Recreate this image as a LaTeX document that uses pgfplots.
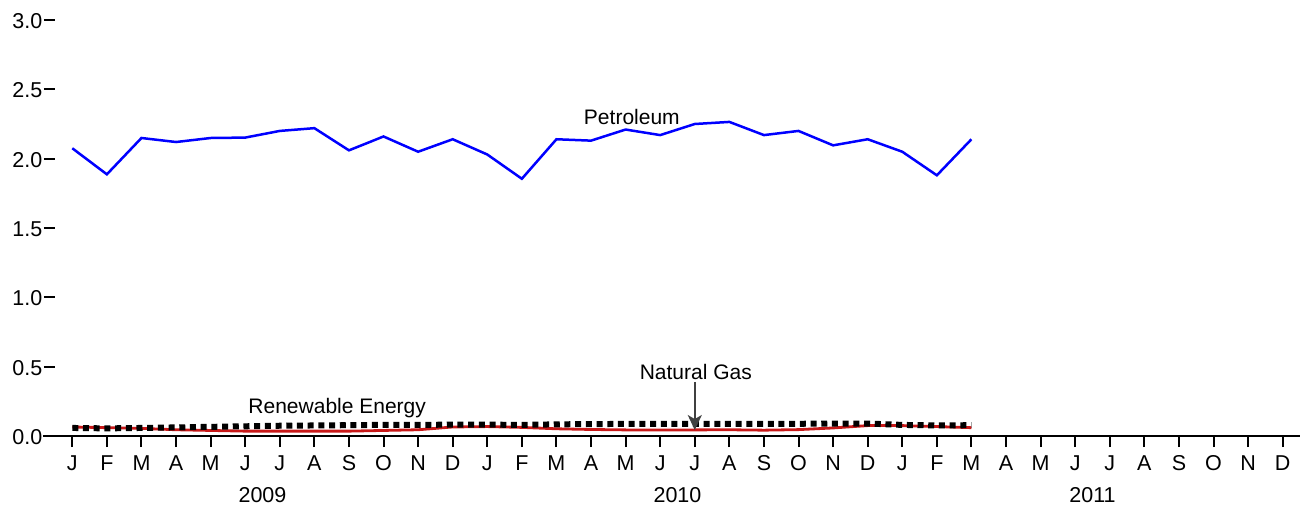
\documentclass[border=0pt]{standalone}
\usepackage{fontspec}
\setmainfont{Liberation Sans}
\usepackage{pgfplots}
\pgfplotsset{compat=1.18}
\usetikzlibrary{arrows.meta}
\begin{document}
\begin{tikzpicture}
\useasboundingbox (0,0) rectangle (1310bp,508bp);
\begin{axis}[
  at={(55bp,72bp)}, anchor=south west,
  scale only axis, width=1245bp, height=416bp,
  xmin=-0.5, xmax=35.5, ymin=0, ymax=3,
  axis x line*=bottom, axis y line*=left,
  x axis line style={-, line width=2bp, shorten <=-12bp},
  y axis line style={draw=none},
  tick align=outside, major tick length=11bp,
  every tick/.style={black, line width=2bp},
  xtick={0,...,35},
  xticklabels={J,F,M,A,M,J,J,A,S,O,N,D,J,F,M,A,M,J,J,A,S,O,N,D,J,F,M,A,M,J,J,A,S,O,N,D},
  ytick={0,0.5,1,1.5,2,2.5,3},
  /pgf/number format/assume math mode=true,
  yticklabel style={/pgf/number format/.cd, fixed, fixed zerofill, precision=1, /tikz/.cd, inner sep=1.5bp, yshift=-1bp},
  xticklabel style={yshift=-5bp},
  tick label style={font=\fontsize{21.5bp}{25bp}\selectfont},
  clip=false,
]
% red line
\addplot[color={rgb,255:red,200;green,25;blue,25}, line width=2.8bp] coordinates {
(0,0.065)(1,0.060)(2,0.055)(3,0.045)(4,0.040)(5,0.035)(6,0.035)(7,0.035)(8,0.035)(9,0.040)(10,0.045)(11,0.065)
(12,0.068)(13,0.062)(14,0.052)(15,0.047)(16,0.044)(17,0.043)(18,0.044)(19,0.045)(20,0.042)(21,0.046)(22,0.058)(23,0.075)
(24,0.075)(25,0.068)(26,0.060)};
% black dotted
\addplot[black, line width=6bp, dash pattern=on 6bp off 4.7bp] coordinates {
(0,0.058)(1,0.055)(2,0.058)(3,0.062)(4,0.066)(5,0.070)(6,0.074)(7,0.076)(8,0.078)(9,0.080)(10,0.080)(11,0.082)
(12,0.082)(13,0.080)(14,0.084)(15,0.086)(16,0.087)(17,0.087)(18,0.088)(19,0.088)(20,0.087)(21,0.088)(22,0.090)(23,0.090)
(24,0.080)(25,0.076)(26,0.078)};
% Petroleum (blue)
\addplot[color={rgb,255:red,0;green,0;blue,255}, line width=2.5bp] coordinates {
(0,2.075)(1,1.887)(2,2.149)(3,2.12)(4,2.149)(5,2.152)(6,2.20)(7,2.22)(8,2.06)(9,2.16)(10,2.05)(11,2.14)
(12,2.03)(13,1.855)(14,2.14)(15,2.13)(16,2.21)(17,2.17)(18,2.25)(19,2.265)(20,2.17)(21,2.20)(22,2.096)(23,2.14)
(24,2.05)(25,1.88)(26,2.14)};
\node[font=\fontsize{21bp}{24bp}\selectfont] at (axis cs:16.18,2.30) {Petroleum};
\node[font=\fontsize{21bp}{24bp}\selectfont] at (axis cs:7.66,0.20) {Renewable Energy};
\node[font=\fontsize{21bp}{24bp}\selectfont] at (axis cs:18.03,0.462) {Natural Gas};
\draw[-{Stealth[length=15bp,width=14bp,inset=4bp]}, line width=1.8bp, black!75] (axis cs:18,0.39) -- (axis cs:18,0.043);
\node[font=\fontsize{21.5bp}{25bp}\selectfont] at (axis cs:5.5,0) [yshift=-59bp] {2009};
\node[font=\fontsize{21.5bp}{25bp}\selectfont] at (axis cs:17.5,0) [yshift=-59bp] {2010};
\node[font=\fontsize{21.5bp}{25bp}\selectfont] at (axis cs:29.5,0) [yshift=-59bp] {2011};
\end{axis}
\end{tikzpicture}
\end{document}
